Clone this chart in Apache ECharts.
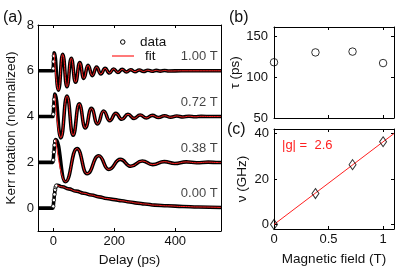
<!DOCTYPE html>
<html><head><meta charset="utf-8">
<script src="https://cdn.jsdelivr.net/npm/echarts@6/dist/echarts.min.js"></script>
<style>html,body{margin:0;padding:0;background:#fff}#c{width:398px;height:274px}</style>
</head><body><div id="c"></div>
<script>
// ---------------- data ----------------
const fieldLabels = ['0.00 T', '0.38 T', '0.72 T', '1.00 T'];
const offsets = [0, 2, 4, 6];
// [delay (ps), Kerr rotation (normalized, offset)]
const kerr000 = [[-50,0],[-1,0],[0,0.08],[2,0.35],[4,0.6],[6,0.8],[8,0.92],[10,0.98],[13,1.0],[30,0.93],[50,0.84],[75,0.74],[100,0.65],[125,0.57],[150,0.49],[175,0.42],[200,0.37],[225,0.32],[250,0.27],[275,0.22],[300,0.18],[333,0.13],[375,0.1],[425,0.07],[475,0.05],[550,0.03]];
const kerr038 = [[-50,2],[-1,2],[0,2.1],[2,2.45],[4,2.75],[6,2.93],[8,3.0],[40,1.15],[78,2.6],[111,1.5],[149,2.29],[182,1.69],[220,2.13],[254,1.83],[292,2.06],[326,1.9],[364,2.03],[398,1.95],[436,2.02],[470,1.98],[508,2.01],[542,1.99],[550,1.99]];
const kerr072 = [[-50,4],[-1,4],[0,4.1],[1.5,4.45],[3,4.75],[5,4.98],[25,3.07],[45,4.9],[65,3.18],[85,4.56],[105,3.5],[125,4.36],[145,3.68],[165,4.24],[185,3.82],[205,4.14],[225,3.88],[245,4.1],[265,3.92],[285,4.07],[305,3.94],[325,4.05],[345,3.96],[365,4.035],[385,3.97],[405,4.025],[425,3.98],[445,4.015],[465,3.99],[485,4.01],[520,4.0],[550,4.0]];
const kerr100 = [[-50,6],[-1,6],[0,6.1],[1,6.4],[2,6.65],[3,6.78],[17,5.15],[31,6.72],[45,5.30],[59,6.55],[73,5.50],[87,6.36],[100,5.67],[114,6.24],[128,5.79],[142,6.16],[156,5.86],[170,6.11],[184,5.90],[198,6.08],[212,5.93],[226,6.06],[240,5.95],[254,6.045],[268,5.96],[282,6.035],[296,5.97],[310,6.025],[324,5.98],[338,6.018],[351,5.985],[365,6.012],[379,5.99],[420,6.0],[550,6.0]];
const fitStart = [13, 8, 5, 3];           // delay (ps) where each fit begins
const fields = [0, 0.38, 0.72, 1.0];      // T
const tau = [118, 130, 131, 117];         // ps
const nu = [0, 13.6, 26.3, 36.4];         // GHz
const gFitLine = [[0, 0], [1.1, 40.0]];   // |g| = 2.6 linear fit
const delayTicks = [0, 200, 400];
const kerrTicks = [0, 2, 4, 6, 8];
const fieldTicks = [0, 0.5, 1];
const tauTicks = [50, 100, 150];
const nuTicks = [0, 20, 40];

// ---------------- chart ----------------
const FONT = '"Liberation Sans", Arial, sans-serif';
const TXT = '#111';
const RED = '#ff2020';
const chart = echarts.init(document.getElementById('c'), null, {renderer: 'canvas'});

function ax(o) {
  const base = {
    type: 'value', gridIndex: o.grid, min: o.min, max: o.max, position: o.pos,
    splitLine: {show: false},
    axisLine: {show: true, onZero: false, lineStyle: {color: '#000', width: 1}},
    axisTick: {show: true, inside: true, length: 3, customValues: o.ticks, lineStyle: {color: '#000'}},
    axisLabel: {show: !!o.labels, customValues: o.ticks, margin: o.margin || 4,
      color: TXT, fontSize: 13, fontFamily: FONT},
  };
  if (o.name) {
    Object.assign(base, {name: o.name, nameLocation: 'middle', nameGap: o.nameGap,
      nameRotate: o.nameRotate || 0,
      nameTextStyle: {color: TXT, fontSize: 13.5, fontFamily: FONT}});
  }
  return base;
}

const xAxis = [
  ax({grid: 0, min: -50, max: 550, pos: 'bottom', ticks: delayTicks, labels: true, name: 'Delay (ps)', nameGap: 20}),
  ax({grid: 0, min: -50, max: 550, pos: 'top', ticks: delayTicks}),
  ax({grid: 1, min: 0, max: 1.1, pos: 'bottom', ticks: fieldTicks}),
  ax({grid: 1, min: 0, max: 1.1, pos: 'top', ticks: fieldTicks}),
  ax({grid: 2, min: 0, max: 1.1, pos: 'bottom', ticks: fieldTicks, labels: true, name: 'Magnetic field (T)', nameGap: 23}),
  ax({grid: 2, min: 0, max: 1.1, pos: 'top', ticks: fieldTicks}),
];
const yAxis = [
  ax({grid: 0, min: -1, max: 8, pos: 'left', ticks: kerrTicks, labels: true, name: 'Kerr rotation (normalized)', nameGap: 20, nameRotate: 90}),
  ax({grid: 0, min: -1, max: 8, pos: 'right', ticks: kerrTicks}),
  ax({grid: 1, min: 50, max: 161, pos: 'left', ticks: tauTicks, labels: true, margin: 6, name: 'τ (ps)', nameGap: 24, nameRotate: 90}),
  ax({grid: 1, min: 50, max: 161, pos: 'right', ticks: tauTicks}),
  ax({grid: 2, min: -2, max: 42, pos: 'left', ticks: nuTicks, labels: true, margin: 5, name: 'ν (GHz)', nameGap: 25, nameRotate: 90}),
  ax({grid: 2, min: -2, max: 42, pos: 'right', ticks: nuTicks}),
];

const curves = [kerr000, kerr038, kerr072, kerr100];
const series = [];
curves.forEach((c, i) => {
  series.push({
    name: 'data', type: 'line', xAxisIndex: 0, yAxisIndex: 0,
    smooth: 0.5, smoothMonotone: 'x', showSymbol: true, showAllSymbol: true,
    symbol: 'circle', symbolSize: 3.5,
    data: c.map(p => ({value: p, symbol: (p[0] >= 0 && p[0] < fitStart[i]) ? 'circle' : 'none'})),
    lineStyle: {color: '#000', width: 3.6},
    itemStyle: {color: '#fff', borderColor: '#000', borderWidth: 0.8},
    z: 2, animation: false
  });
});
curves.forEach((c, i) => {
  series.push({
    name: 'fit', type: 'line', xAxisIndex: 0, yAxisIndex: 0,
    smooth: 0.5, smoothMonotone: 'x', symbol: 'none',
    data: c.filter(p => p[0] >= fitStart[i]),
    lineStyle: {color: RED, width: 1}, itemStyle: {color: RED},
    z: 3, animation: false
  });
});
// field labels in panel (a)
series.push({
  type: 'scatter', xAxisIndex: 0, yAxisIndex: 0, symbolSize: 0, silent: true, animation: false,
  data: offsets.map((o, i) => ({value: [549, o + 0.62], label: {formatter: fieldLabels[i]}})),
  label: {show: true, position: 'left', distance: 3, color: TXT, fontSize: 13, fontFamily: FONT},
  z: 5
});
// panel (b)
series.push({
  type: 'scatter', xAxisIndex: 2, yAxisIndex: 2, clip: false, animation: false,
  symbol: 'circle', symbolSize: 7.5,
  data: fields.map((f, i) => [f, tau[i]]),
  itemStyle: {color: 'rgba(0,0,0,0)', borderColor: '#000', borderWidth: 1}
});
// panel (c)
series.push({
  type: 'line', xAxisIndex: 4, yAxisIndex: 4, symbol: 'none', animation: false,
  data: gFitLine, lineStyle: {color: RED, width: 1}
});
series.push({
  type: 'scatter', xAxisIndex: 4, yAxisIndex: 4, clip: false, animation: false,
  symbol: 'diamond', symbolSize: [7, 10],
  data: fields.map((f, i) => [f, nu[i]]),
  itemStyle: {color: 'rgba(0,0,0,0)', borderColor: '#000', borderWidth: 1}, z: 4
});

const legTxt = {color: TXT, fontSize: 13.5, fontFamily: FONT};
chart.setOption({
  animation: false,
  backgroundColor: '#fff',
  grid: [
    {left: 38, top: 25, width: 183, height: 206},
    {left: 274, top: 27, width: 120, height: 91},
    {left: 274, top: 129, width: 120, height: 100}
  ],
  xAxis, yAxis, series,
  legend: [
    {data: [{name: 'data', icon: 'circle', itemStyle: {color: '#fff', borderColor: '#000', borderWidth: 1}}],
     left: 115, top: 30, itemWidth: 4.5, itemHeight: 4.5, selectedMode: false,
     textStyle: Object.assign({padding: [0, 0, 0, 10]}, legTxt)},
    {data: [{name: 'fit', icon: 'rect', itemStyle: {color: RED, borderWidth: 0}}],
     left: 107, top: 44, itemWidth: 22, itemHeight: 1.2, selectedMode: false,
     textStyle: Object.assign({padding: [0, 0, 0, 6]}, legTxt)}
  ],
  graphic: [
    {type: 'text', x: 3, y: 17.5, style: {text: '(a)', font: '16px ' + FONT, fill: TXT, verticalAlign: 'middle'}},
    {type: 'text', x: 229, y: 18, style: {text: '(b)', font: '16px ' + FONT, fill: TXT, verticalAlign: 'middle'}},
    {type: 'text', x: 227, y: 130, style: {text: '(c)', font: '16px ' + FONT, fill: TXT, verticalAlign: 'middle'}},
    {type: 'text', x: 282, y: 145, style: {text: '|g| =  2.6', font: '13px ' + FONT, fill: RED, verticalAlign: 'middle'}}
  ]
});
</script></body></html>
